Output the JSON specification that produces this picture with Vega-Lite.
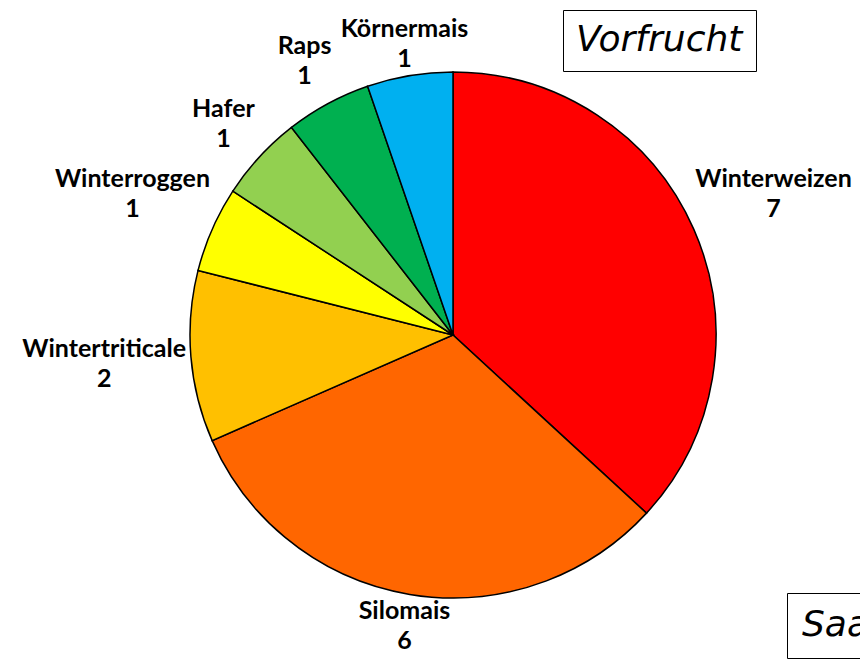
{
  "$schema": "https://vega.github.io/schema/vega-lite/v6.json",
  "width": 814,
  "height": 650,
  "autosize": {"type": "none"},
  "padding": {"left": 46, "top": 10, "right": 0, "bottom": 0},
  "background": "white",
  "config": {"view": {"stroke": null}},
  "data": {
    "values": [
      {"name": "Winterweizen", "value": 7, "rank": 1},
      {"name": "Silomais", "value": 6, "rank": 2},
      {"name": "Wintertriticale", "value": 2, "rank": 3},
      {"name": "Winterroggen", "value": 1, "rank": 4},
      {"name": "Hafer", "value": 1, "rank": 5},
      {"name": "Raps", "value": 1, "rank": 6},
      {"name": "Körnermais", "value": 1, "rank": 7}
    ]
  },
  "transform": [
    {"stack": "value", "groupby": [], "sort": [{"field": "rank", "order": "ascending"}], "as": ["v0", "v1"]},
    {"calculate": "(datum.v0 + datum.v1) / 2", "as": "mid"}
  ],
  "layer": [
    {
      "mark": {"type": "arc", "outerRadius": 263, "stroke": "black", "strokeWidth": 1.5},
      "encoding": {
        "theta": {"field": "v0", "type": "quantitative", "scale": {"domain": [0, 19]}},
        "theta2": {"field": "v1"},
        "color": {
          "field": "name",
          "type": "nominal",
          "scale": {
            "domain": ["Winterweizen", "Silomais", "Wintertriticale", "Winterroggen", "Hafer", "Raps", "Körnermais"],
            "range": ["#FF0000", "#FF6600", "#FFC000", "#FFFF00", "#92D050", "#00B050", "#00B0F0"]
          },
          "legend": {
            "title": "Vorfrucht",
            "values": [],
            "orient": "none",
            "legendX": 517,
            "legendY": 0,
            "titleFont": "DejaVu Sans",
            "titleFontSize": 36,
            "titleFontStyle": "italic",
            "titleFontWeight": "normal",
            "titleColor": "black",
            "titleLimit": 500,
            "strokeColor": "black",
            "padding": 13,
            "encode": {"legend": {"update": {"strokeWidth": {"value": 2.5}}}}
          }
        },
        "opacity": {
          "field": "value",
          "type": "quantitative",
          "scale": {"range": [1, 1]},
          "legend": {
            "title": "Saat",
            "values": [],
            "orient": "none",
            "legendX": 741,
            "legendY": 583,
            "titleFont": "DejaVu Sans",
            "titleFontSize": 36,
            "titleFontStyle": "italic",
            "titleFontWeight": "normal",
            "titleColor": "black",
            "titleLimit": 500,
            "strokeColor": "black",
            "padding": 15,
            "encode": {"legend": {"update": {"strokeWidth": {"value": 2.5}}}}
          }
        }
      }
    },
    {
      "transform": [{"filter": {"field": "name", "oneOf": ["Winterweizen", "Wintertriticale", "Winterroggen"]}}],
      "mark": {"type": "text", "radius": 350, "dy": -15, "font": "Lato", "fontWeight": "bold", "fontSize": 25, "color": "black"},
      "encoding": {
        "theta": {"field": "mid", "type": "quantitative", "scale": {"domain": [0, 19]}},
        "text": {"field": "name"}
      }
    },
    {
      "transform": [{"filter": {"field": "name", "oneOf": ["Winterweizen", "Wintertriticale", "Winterroggen"]}}],
      "mark": {"type": "text", "radius": 350, "dy": 15, "font": "Lato", "fontWeight": "bold", "fontSize": 25, "color": "black"},
      "encoding": {
        "theta": {"field": "mid", "type": "quantitative", "scale": {"domain": [0, 19]}},
        "text": {"field": "value"}
      }
    },
    {
      "transform": [{"filter": {"field": "name", "oneOf": ["Hafer", "Raps"]}}],
      "mark": {"type": "text", "radius": 312, "dy": -15, "font": "Lato", "fontWeight": "bold", "fontSize": 25, "color": "black"},
      "encoding": {
        "theta": {"field": "mid", "type": "quantitative", "scale": {"domain": [0, 19]}},
        "text": {"field": "name"}
      }
    },
    {
      "transform": [{"filter": {"field": "name", "oneOf": ["Hafer", "Raps"]}}],
      "mark": {"type": "text", "radius": 312, "dy": 15, "font": "Lato", "fontWeight": "bold", "fontSize": 25, "color": "black"},
      "encoding": {
        "theta": {"field": "mid", "type": "quantitative", "scale": {"domain": [0, 19]}},
        "text": {"field": "value"}
      }
    },
    {
      "transform": [{"filter": {"field": "name", "oneOf": ["Silomais", "Körnermais"]}}],
      "mark": {"type": "text", "radius": 295, "dy": -15, "font": "Lato", "fontWeight": "bold", "fontSize": 25, "color": "black"},
      "encoding": {
        "theta": {"field": "mid", "type": "quantitative", "scale": {"domain": [0, 19]}},
        "text": {"field": "name"}
      }
    },
    {
      "transform": [{"filter": {"field": "name", "oneOf": ["Silomais", "Körnermais"]}}],
      "mark": {"type": "text", "radius": 295, "dy": 15, "font": "Lato", "fontWeight": "bold", "fontSize": 25, "color": "black"},
      "encoding": {
        "theta": {"field": "mid", "type": "quantitative", "scale": {"domain": [0, 19]}},
        "text": {"field": "value"}
      }
    }
  ]
}
